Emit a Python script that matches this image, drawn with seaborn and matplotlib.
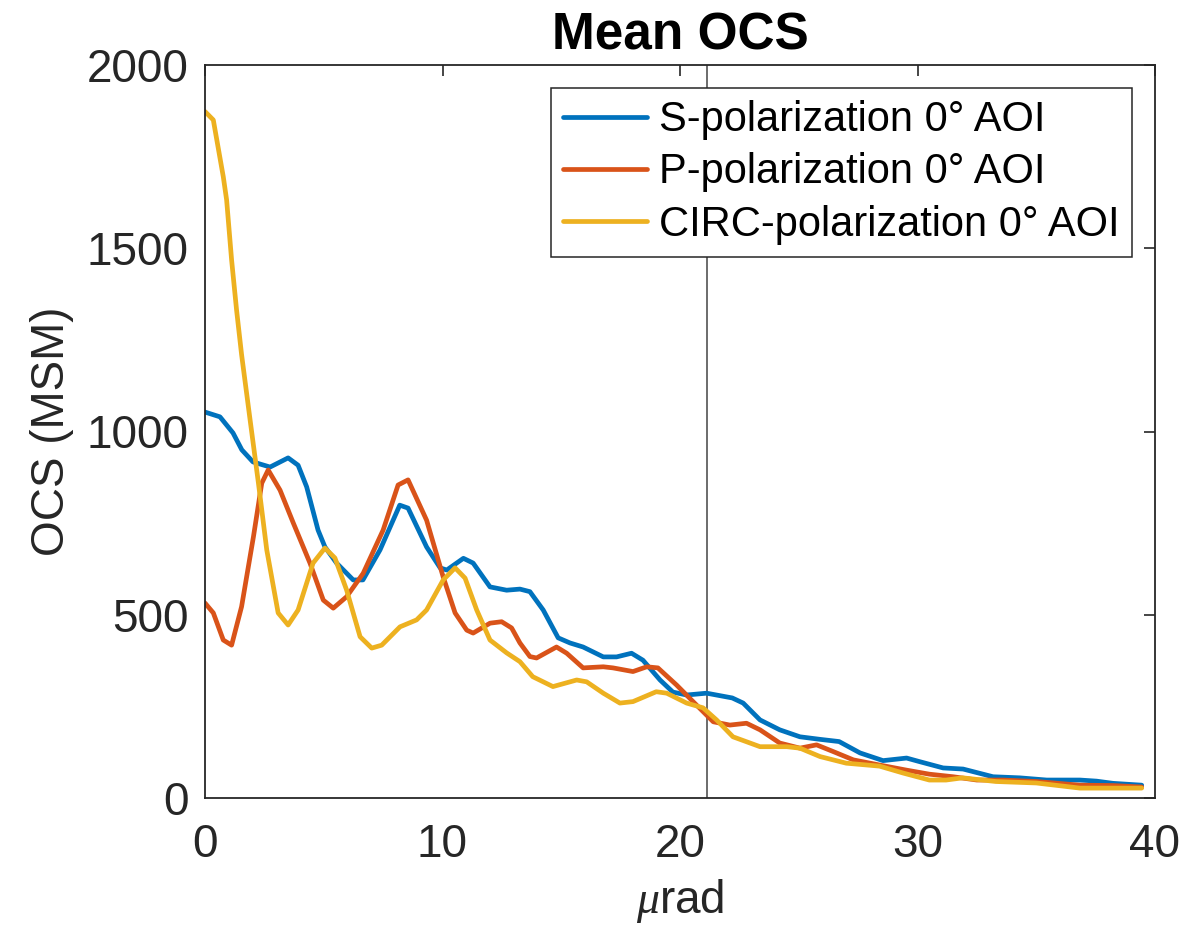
import numpy as np
import pandas as pd
import seaborn as sns
import matplotlib.pyplot as plt

# Curves (x in microrad, y in MSM)
s_x = [0, 0.63, 1.18, 1.55, 2.02, 2.74, 3.5, 3.92, 4.28, 4.76, 5.05, 5.54, 6.24, 6.65, 7.37,
       8.2, 8.55, 9.33, 9.9, 10.18, 10.88, 11.29, 12.0, 12.7, 13.26, 13.68, 14.24, 14.87, 15.37,
       15.92, 16.77, 17.33, 17.96, 18.44, 19.16, 19.7, 20.28, 21.12, 22.2, 22.66, 23.37, 24.2,
       25.05, 25.9, 26.7, 27.58, 28.55, 29.54, 30.1, 31.08, 31.92, 32.34, 33.18, 34.3, 35.44,
       36.84, 37.54, 38.23, 39.44]
s_y = [1053, 1040, 996, 950, 917, 903, 928, 908, 849, 731, 685, 641, 595, 595, 677,
       799, 791, 685, 628, 622, 654, 641, 576, 567, 570, 563, 513, 437, 423,
       412, 385, 385, 395, 376, 322, 289, 281, 286, 273, 259, 213, 186,
       167, 160, 154, 123, 102, 109, 99, 82, 79, 72, 58, 55, 49,
       49, 46, 40, 35]

p_x = [0, 0.35, 0.77, 1.12, 1.54, 2.04, 2.39, 2.66, 3.16, 3.72, 4.42, 4.98, 5.4, 5.96, 6.66,
       7.5, 8.13, 8.55, 9.33, 10.03, 10.53, 11.02, 11.29, 12.0, 12.49, 12.91, 13.26, 13.68,
       13.96, 14.8, 15.23, 15.92, 16.77, 17.18, 18.02, 18.6, 19.07, 19.86, 20.55, 21.4, 22.1,
       22.8, 23.37, 24.2, 25.05, 25.75, 26.44, 27.3, 28.4, 29.54, 30.5, 31.5, 32.5, 33.6, 35.0,
       36.84, 38.23, 39.44]
p_y = [532, 505, 431, 417, 522, 713, 859, 895, 840, 750, 641, 540, 518, 549, 613,
       731, 854, 868, 758, 603, 505, 458, 450, 477, 481, 464, 423, 386,
       382, 412, 395, 355, 358, 355, 345, 358, 355, 308, 263, 208, 199,
       204, 186, 150, 136, 145, 127, 104, 90, 76, 65, 58, 49, 49, 45,
       35, 34, 30]

c_x = [0, 0.35, 0.77, 0.91, 1.12, 1.33, 1.54, 1.9, 2.25, 2.6, 3.08, 3.5, 3.92, 4.55, 5.05,
       5.47, 5.96, 6.53, 7.02, 7.44, 8.21, 8.91, 9.33, 10.03, 10.53, 10.95, 11.44, 12.0, 12.7,
       13.26, 13.8, 14.65, 15.65, 16.07, 16.77, 17.47, 18.02, 19.0, 19.44, 20.28, 20.97, 21.54,
       22.23, 23.37, 24.5, 25.05, 25.9, 27.0, 28.4, 29.4, 30.5, 31.2, 31.9, 33.3, 35.0, 36.84,
       38.2, 39.44]
c_y = [1873, 1850, 1695, 1632, 1468, 1331, 1210, 1031, 859, 677, 505, 472, 513, 641, 682,
       655, 568, 440, 409, 417, 467, 486, 513, 595, 628, 600, 513, 431, 396,
       372, 331, 304, 322, 317, 286, 259, 263, 290, 286, 259, 246, 213,
       167, 140, 140, 136, 113, 95, 87, 68, 49, 49, 55, 45, 41, 27,
       27, 27]

labels = ["S-polarization 0° AOI", "P-polarization 0° AOI", "CIRC-polarization 0° AOI"]
colors = ["#0072BD", "#D95319", "#EDB120"]
vline_x = 21.12

# Long-form table for seaborn
df = pd.concat([
    pd.DataFrame({"x": s_x, "y": s_y, "series": labels[0]}),
    pd.DataFrame({"x": p_x, "y": p_y, "series": labels[1]}),
    pd.DataFrame({"x": c_x, "y": c_y, "series": labels[2]}),
], ignore_index=True)

sns.set_style("white")
plt.rcParams["font.family"] = ["Liberation Sans", "DejaVu Sans"]
plt.rcParams["mathtext.fontset"] = "custom"
plt.rcParams["mathtext.it"] = "Liberation Serif:italic"

fig = plt.figure(figsize=(11.83, 9.27), dpi=100)
ax = fig.add_axes([205 / 1183, 1 - 798 / 927, 950 / 1183, 733 / 927])

sns.lineplot(data=df, x="x", y="y", hue="series", palette=colors,
             linewidth=3.4, sort=False, ax=ax)

ax.axvline(vline_x, color="#444444", linewidth=1.1, zorder=1)

ax.set_xlim(0, 40)
ax.set_ylim(0, 2000)
ax.set_xticks([0, 10, 20, 30, 40])
ax.set_yticks([0, 500, 1000, 1500, 2000])

axis_col = "#262626"
for sp in ax.spines.values():
    sp.set_visible(True)
    sp.set_color(axis_col)
    sp.set_linewidth(1.3)
ax.tick_params(direction="in", length=8, width=1.2, colors=axis_col,
               labelsize=33, top=True, right=True, labelcolor=axis_col)
ax.tick_params(axis="x", pad=18)
ax.tick_params(axis="y", pad=12)

ax.set_title("Mean OCS", fontsize=37, fontweight="bold", color="black", pad=11)
ax.set_xlabel(r"$\mu$rad", fontsize=33, color=axis_col, labelpad=7)
ax.set_ylabel("OCS (MSM)", fontsize=33, color=axis_col, labelpad=9)

leg = ax.legend(loc="upper right", fontsize=30, frameon=True, fancybox=False,
                edgecolor="#262626", framealpha=1, handlelength=2.0,
                borderaxespad=0.55, labelspacing=0.29, borderpad=0.3,
                handletextpad=0.3)
leg.get_frame().set_linewidth(1.1)
for line in leg.get_lines():
    line.set_linewidth(3.4)
for t in leg.get_texts():
    t.set_color("black")

fig.savefig("out.png", dpi=100)
